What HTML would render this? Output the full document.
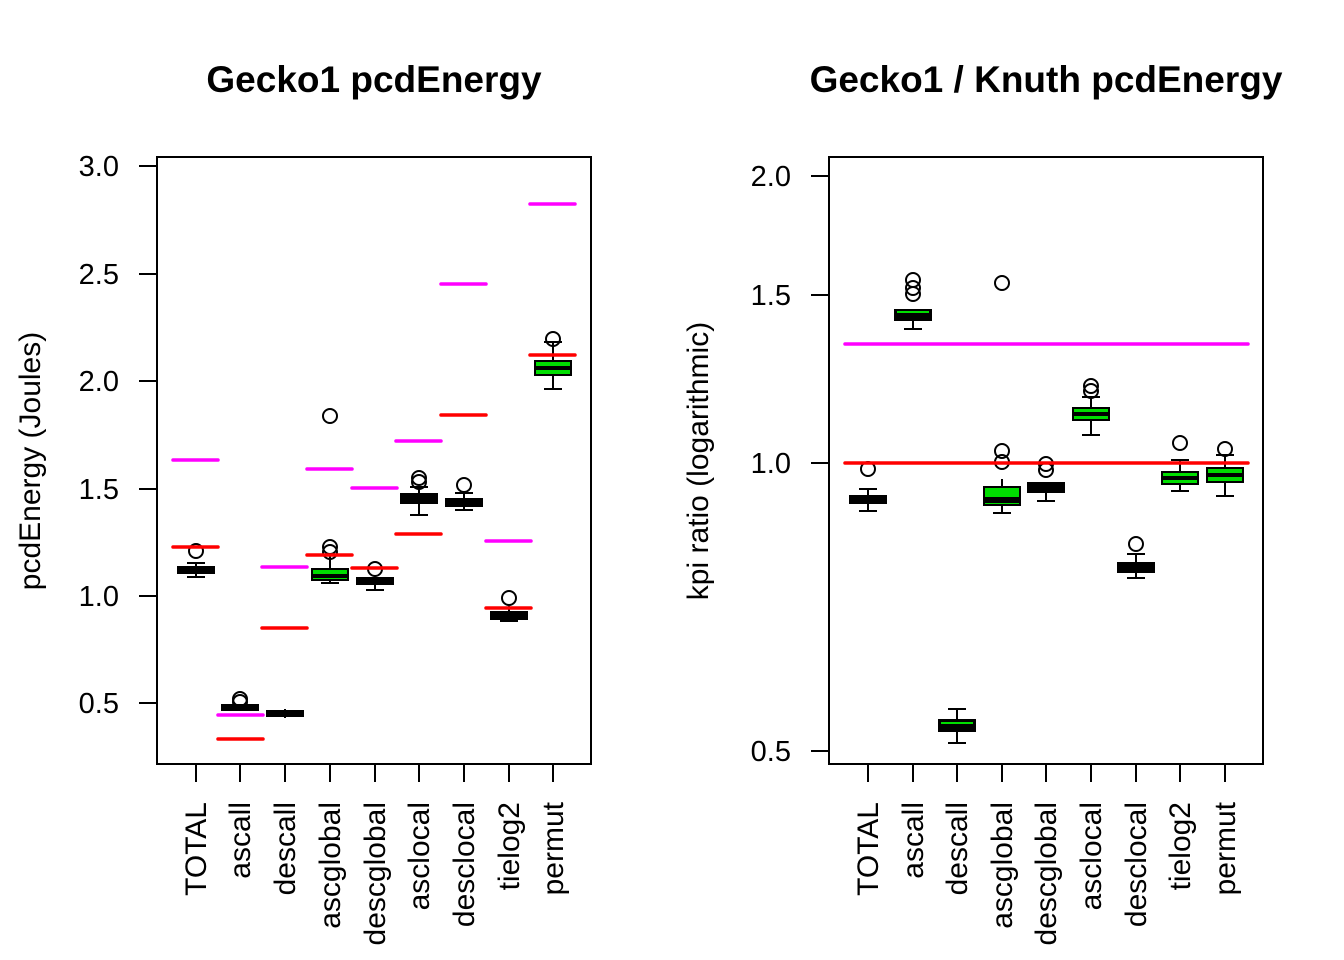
<!DOCTYPE html>
<html><head><meta charset="utf-8"><style>body{margin:0;background:#fff}svg{display:block}text{font-family:"Liberation Sans",sans-serif;fill:#000}</style></head><body>
<svg width="1344" height="960" xmlns="http://www.w3.org/2000/svg">
<g font-size="37" font-weight="bold" text-anchor="middle">
<text x="374" y="92">Gecko1 pcdEnergy</text>
<text x="1046" y="92">Gecko1 / Knuth pcdEnergy</text>
</g>
<g fill="none" stroke="#000" stroke-width="2">
<rect x="157" y="157" width="434" height="607"/>
<rect x="829" y="157" width="434" height="607"/>
<path d="M157 166H139M157 274H139M157 381H139M157 489H139M157 596H139M157 703H139"/>
<path d="M829 176H811M829 295H811M829 463H811M829 751H811"/>
<path d="M196 764v18M240 764v18M285 764v18M330 764v18M375 764v18M419 764v18M464 764v18M509 764v18M553 764v18"/>
<path d="M868 764v18M913 764v18M957 764v18M1002 764v18M1046 764v18M1091 764v18M1136 764v18M1180 764v18M1225 764v18"/>
</g>
<g font-size="29" text-anchor="end">
<text x="119" y="176">3.0</text><text x="119" y="284">2.5</text><text x="119" y="391">2.0</text><text x="119" y="499">1.5</text><text x="119" y="606">1.0</text><text x="119" y="713">0.5</text>
<text x="791" y="186">2.0</text><text x="791" y="305">1.5</text><text x="791" y="473">1.0</text><text x="791" y="761">0.5</text>
</g>
<text font-size="30" text-anchor="middle" transform="translate(40,461) rotate(-90)">pcdEnergy (Joules)</text>
<text font-size="30" text-anchor="middle" transform="translate(708,461) rotate(-90)">kpi ratio (logarithmic)</text>
<g font-size="30" text-anchor="end">
<text transform="translate(206,802) rotate(-90)">TOTAL</text>
<text transform="translate(250,802) rotate(-90)">ascall</text>
<text transform="translate(295,802) rotate(-90)">descall</text>
<text transform="translate(340,802) rotate(-90)">ascglobal</text>
<text transform="translate(385,802) rotate(-90)">descglobal</text>
<text transform="translate(429,802) rotate(-90)">asclocal</text>
<text transform="translate(474,802) rotate(-90)">desclocal</text>
<text transform="translate(519,802) rotate(-90)">tielog2</text>
<text transform="translate(563,802) rotate(-90)">permut</text>
<text transform="translate(878,802) rotate(-90)">TOTAL</text>
<text transform="translate(923,802) rotate(-90)">ascall</text>
<text transform="translate(967,802) rotate(-90)">descall</text>
<text transform="translate(1012,802) rotate(-90)">ascglobal</text>
<text transform="translate(1056,802) rotate(-90)">descglobal</text>
<text transform="translate(1101,802) rotate(-90)">asclocal</text>
<text transform="translate(1146,802) rotate(-90)">desclocal</text>
<text transform="translate(1190,802) rotate(-90)">tielog2</text>
<text transform="translate(1235,802) rotate(-90)">permut</text>
</g>
<g stroke="#000" stroke-width="2" fill="#0d0">
<path d="M196 563v14M187 563h18M187 577h18"/><rect x="178" y="567" width="36" height="6" fill="#000"/><circle cx="196" cy="551" r="7" fill="none"/>
<rect x="222" y="705" width="36" height="5" fill="#000"/><circle cx="240" cy="699" r="7" fill="none"/><circle cx="240" cy="702" r="7" fill="none"/>
<rect x="267" y="711" width="36" height="5" fill="#000"/><path d="M285 709v9"/>
<path d="M330 556v27M321 583h18"/><rect x="312" y="569" width="36" height="11"/><path d="M312 576h36" stroke-width="4"/><circle cx="330" cy="416" r="7" fill="none"/><circle cx="330" cy="547" r="7" fill="none"/><circle cx="330" cy="552" r="7" fill="none"/>
<path d="M375 575v15M366 590h18"/><rect x="357" y="578" width="36" height="6" fill="#000"/><circle cx="375" cy="569" r="7" fill="none"/>
<path d="M419 487v28M410 487h18M410 515h18"/><rect x="401" y="494" width="36" height="9" fill="#000"/><circle cx="419" cy="478" r="7" fill="none"/><circle cx="419" cy="482" r="7" fill="none"/>
<path d="M464 493v17M455 493h18M455 510h18"/><rect x="446" y="499" width="36" height="7" fill="#000"/><circle cx="464" cy="485" r="7" fill="none"/>
<path d="M509 606v15M500 621h18"/><rect x="491" y="612" width="36" height="7" fill="#000"/><circle cx="509" cy="598" r="7" fill="none"/>
<path d="M553 342v47M544 342h18M544 389h18"/><rect x="535" y="361" width="36" height="14"/><path d="M535 368h36" stroke-width="4"/><circle cx="553" cy="339" r="7" fill="none"/>
</g>
<g stroke-width="3.5" stroke-linecap="round">
<g stroke="#f0f"><path d="M173 460h45M218 715h45M262 567h45M307 469h45M352 488h45M396 441h45M441 284h45M486 541h45M530 204h45"/></g>
<g stroke="#f00"><path d="M173 547h45M218 739h45M262 628h45M307 555h45M352 568h45M396 534h45M441 415h45M486 608h45M530 355h45"/></g>
</g>
<g stroke="#000" stroke-width="2" fill="#0d0">
<path d="M868 489v22M859 489h18M859 511h18"/><rect x="850" y="496" width="36" height="7" fill="#000"/><circle cx="868" cy="469" r="7" fill="none"/>
<path d="M913 320v9M904 329h18"/><rect x="895" y="310" width="36" height="10" fill="#000"/><path d="M897 312h32" stroke="#0d0"/><circle cx="913" cy="280" r="7" fill="none"/><circle cx="913" cy="288" r="7" fill="none"/><circle cx="913" cy="294" r="7" fill="none"/>
<path d="M957 709v34M948 709h18M948 743h18"/><rect x="939" y="720" width="36" height="11" fill="#000"/><path d="M941 723h32" stroke="#0d0"/>
<path d="M1002 479v34M993 513h18"/><rect x="984" y="487" width="36" height="18"/><path d="M984 500h36" stroke-width="6"/><circle cx="1002" cy="283" r="7" fill="none"/><circle cx="1002" cy="451" r="7" fill="none"/><circle cx="1002" cy="462" r="7" fill="none"/>
<path d="M1046 492v9M1037 501h18"/><rect x="1028" y="483" width="36" height="9" fill="#000"/><circle cx="1046" cy="464" r="7" fill="none"/><circle cx="1046" cy="470" r="7" fill="none"/>
<path d="M1091 397v38M1082 397h18M1082 435h18"/><rect x="1073" y="408" width="36" height="12"/><path d="M1073 414h36" stroke-width="4"/><circle cx="1091" cy="386" r="7" fill="none"/><circle cx="1091" cy="391" r="7" fill="none"/>
<path d="M1136 554v24M1127 554h18M1127 578h18"/><rect x="1118" y="563" width="36" height="9" fill="#000"/><circle cx="1136" cy="544" r="7" fill="none"/>
<path d="M1180 460v31M1171 460h18M1171 491h18"/><rect x="1162" y="472" width="36" height="12"/><path d="M1162 478h36" stroke-width="4"/><circle cx="1180" cy="443" r="7" fill="none"/>
<path d="M1225 455v41M1216 455h18M1216 496h18"/><rect x="1207" y="468" width="36" height="14"/><path d="M1207 475h36" stroke-width="4"/><circle cx="1225" cy="449" r="7" fill="none"/>
</g>
<g stroke-width="3.5" stroke-linecap="round">
<path d="M845 344H1248" stroke="#f0f"/>
<path d="M845 463H1248" stroke="#f00"/>
</g>
</svg>
</body></html>
